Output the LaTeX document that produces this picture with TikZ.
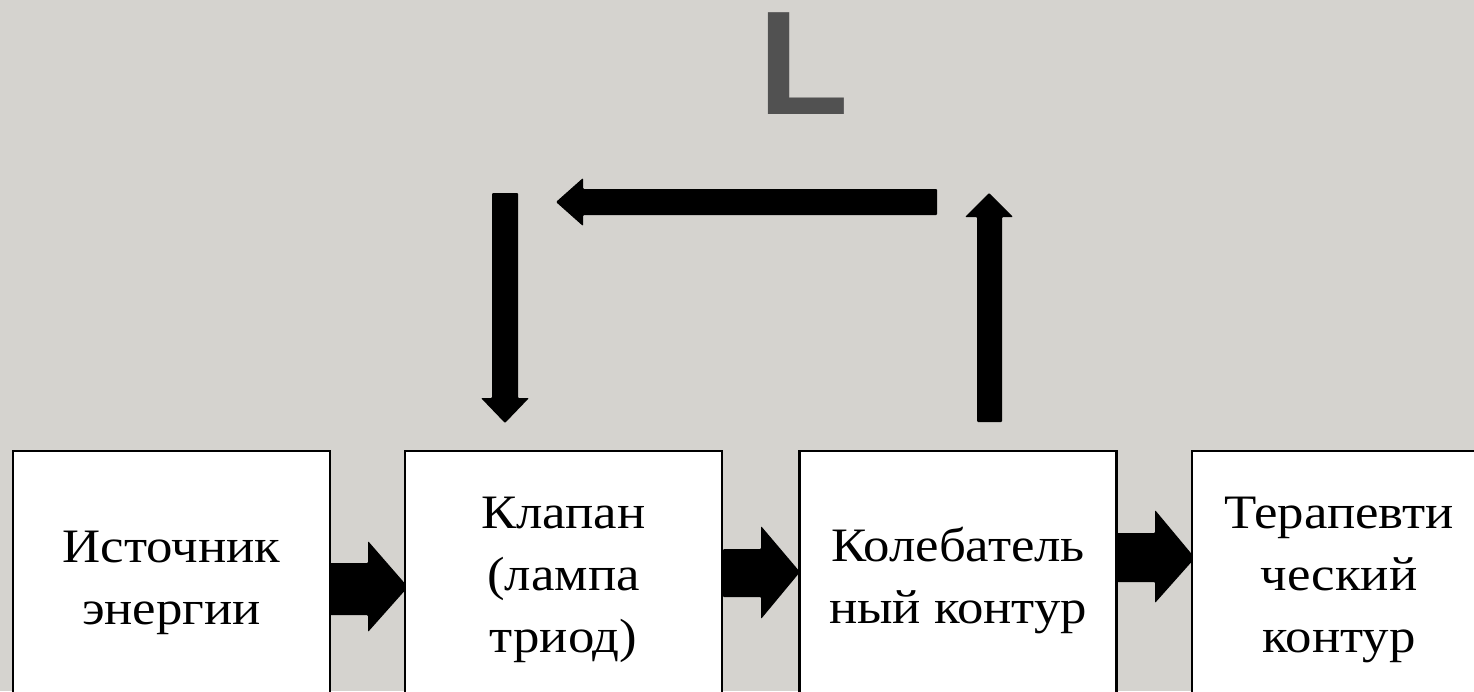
\documentclass[tikz,border=0pt]{standalone}
\usepackage{fontspec}
\setmainfont{Liberation Serif}
\newfontfamily\boxfont[FakeStretch=1.1]{Liberation Serif}
\newfontfamily\Lfont{Liberation Sans}
\definecolor{bg}{RGB}{213,211,207}
\definecolor{lgray}{RGB}{81,81,81}
\begin{document}
\begin{tikzpicture}[x=1pt,y=-1pt,
  box/.style={draw=black, line width=2.5pt, fill=white, minimum width=317pt, minimum height=258pt, inner sep=0pt, align=center, font=\boxfont\fontsize{48}{62}\selectfont},
  blk/.style={fill=black, rounded corners=1pt}]
\fill[bg] (0,0) rectangle (1474,691);
\useasboundingbox (0,0) rectangle (1474,691);
% title
\node[font=\Lfont\bfseries\fontsize{148}{148}\selectfont, text=lgray, anchor=base west, inner sep=0pt] (title) at (758,114) {L};
% feedback arrows
\fill[blk] (492,193) -- (518,193) -- (518,398) -- (529,398) -- (505,423) -- (481,398) -- (492,398) -- cycle;
\fill[blk] (977,422) -- (1002,422) -- (1002,217) -- (1013,217) -- (989,193) -- (965,217) -- (977,217) -- cycle;
\fill[blk] (937,189) -- (937,215) -- (583,215) -- (583,226) -- (556,202) -- (583,178) -- (583,189) -- cycle;
% block arrows between boxes
\fill[blk] (330,563) -- (368,563) -- (368,541) -- (408,587) -- (368,632) -- (368,615) -- (330,615) -- cycle;
\fill[blk] (723,549) -- (761,549) -- (761,526) -- (800,572) -- (761,619) -- (761,597) -- (723,597) -- cycle;
\fill[blk] (1117,533) -- (1155,533) -- (1155,510) -- (1195,558) -- (1155,603) -- (1155,582) -- (1117,582) -- cycle;
% boxes
\node[box, minimum height=264pt] (src) at (171.5,583) {Источник\\энергии};
\node[box] (valve) at (563.5,580) {Клапан\\(лампа\\триод)};
\node[box] (osc) at (958,580) {Колебатель\\ный контур};
\node[box, minimum width=294pt] (ther) at (1339,580) {Терапевти\\ческий\\контур};
\end{tikzpicture}
\end{document}
